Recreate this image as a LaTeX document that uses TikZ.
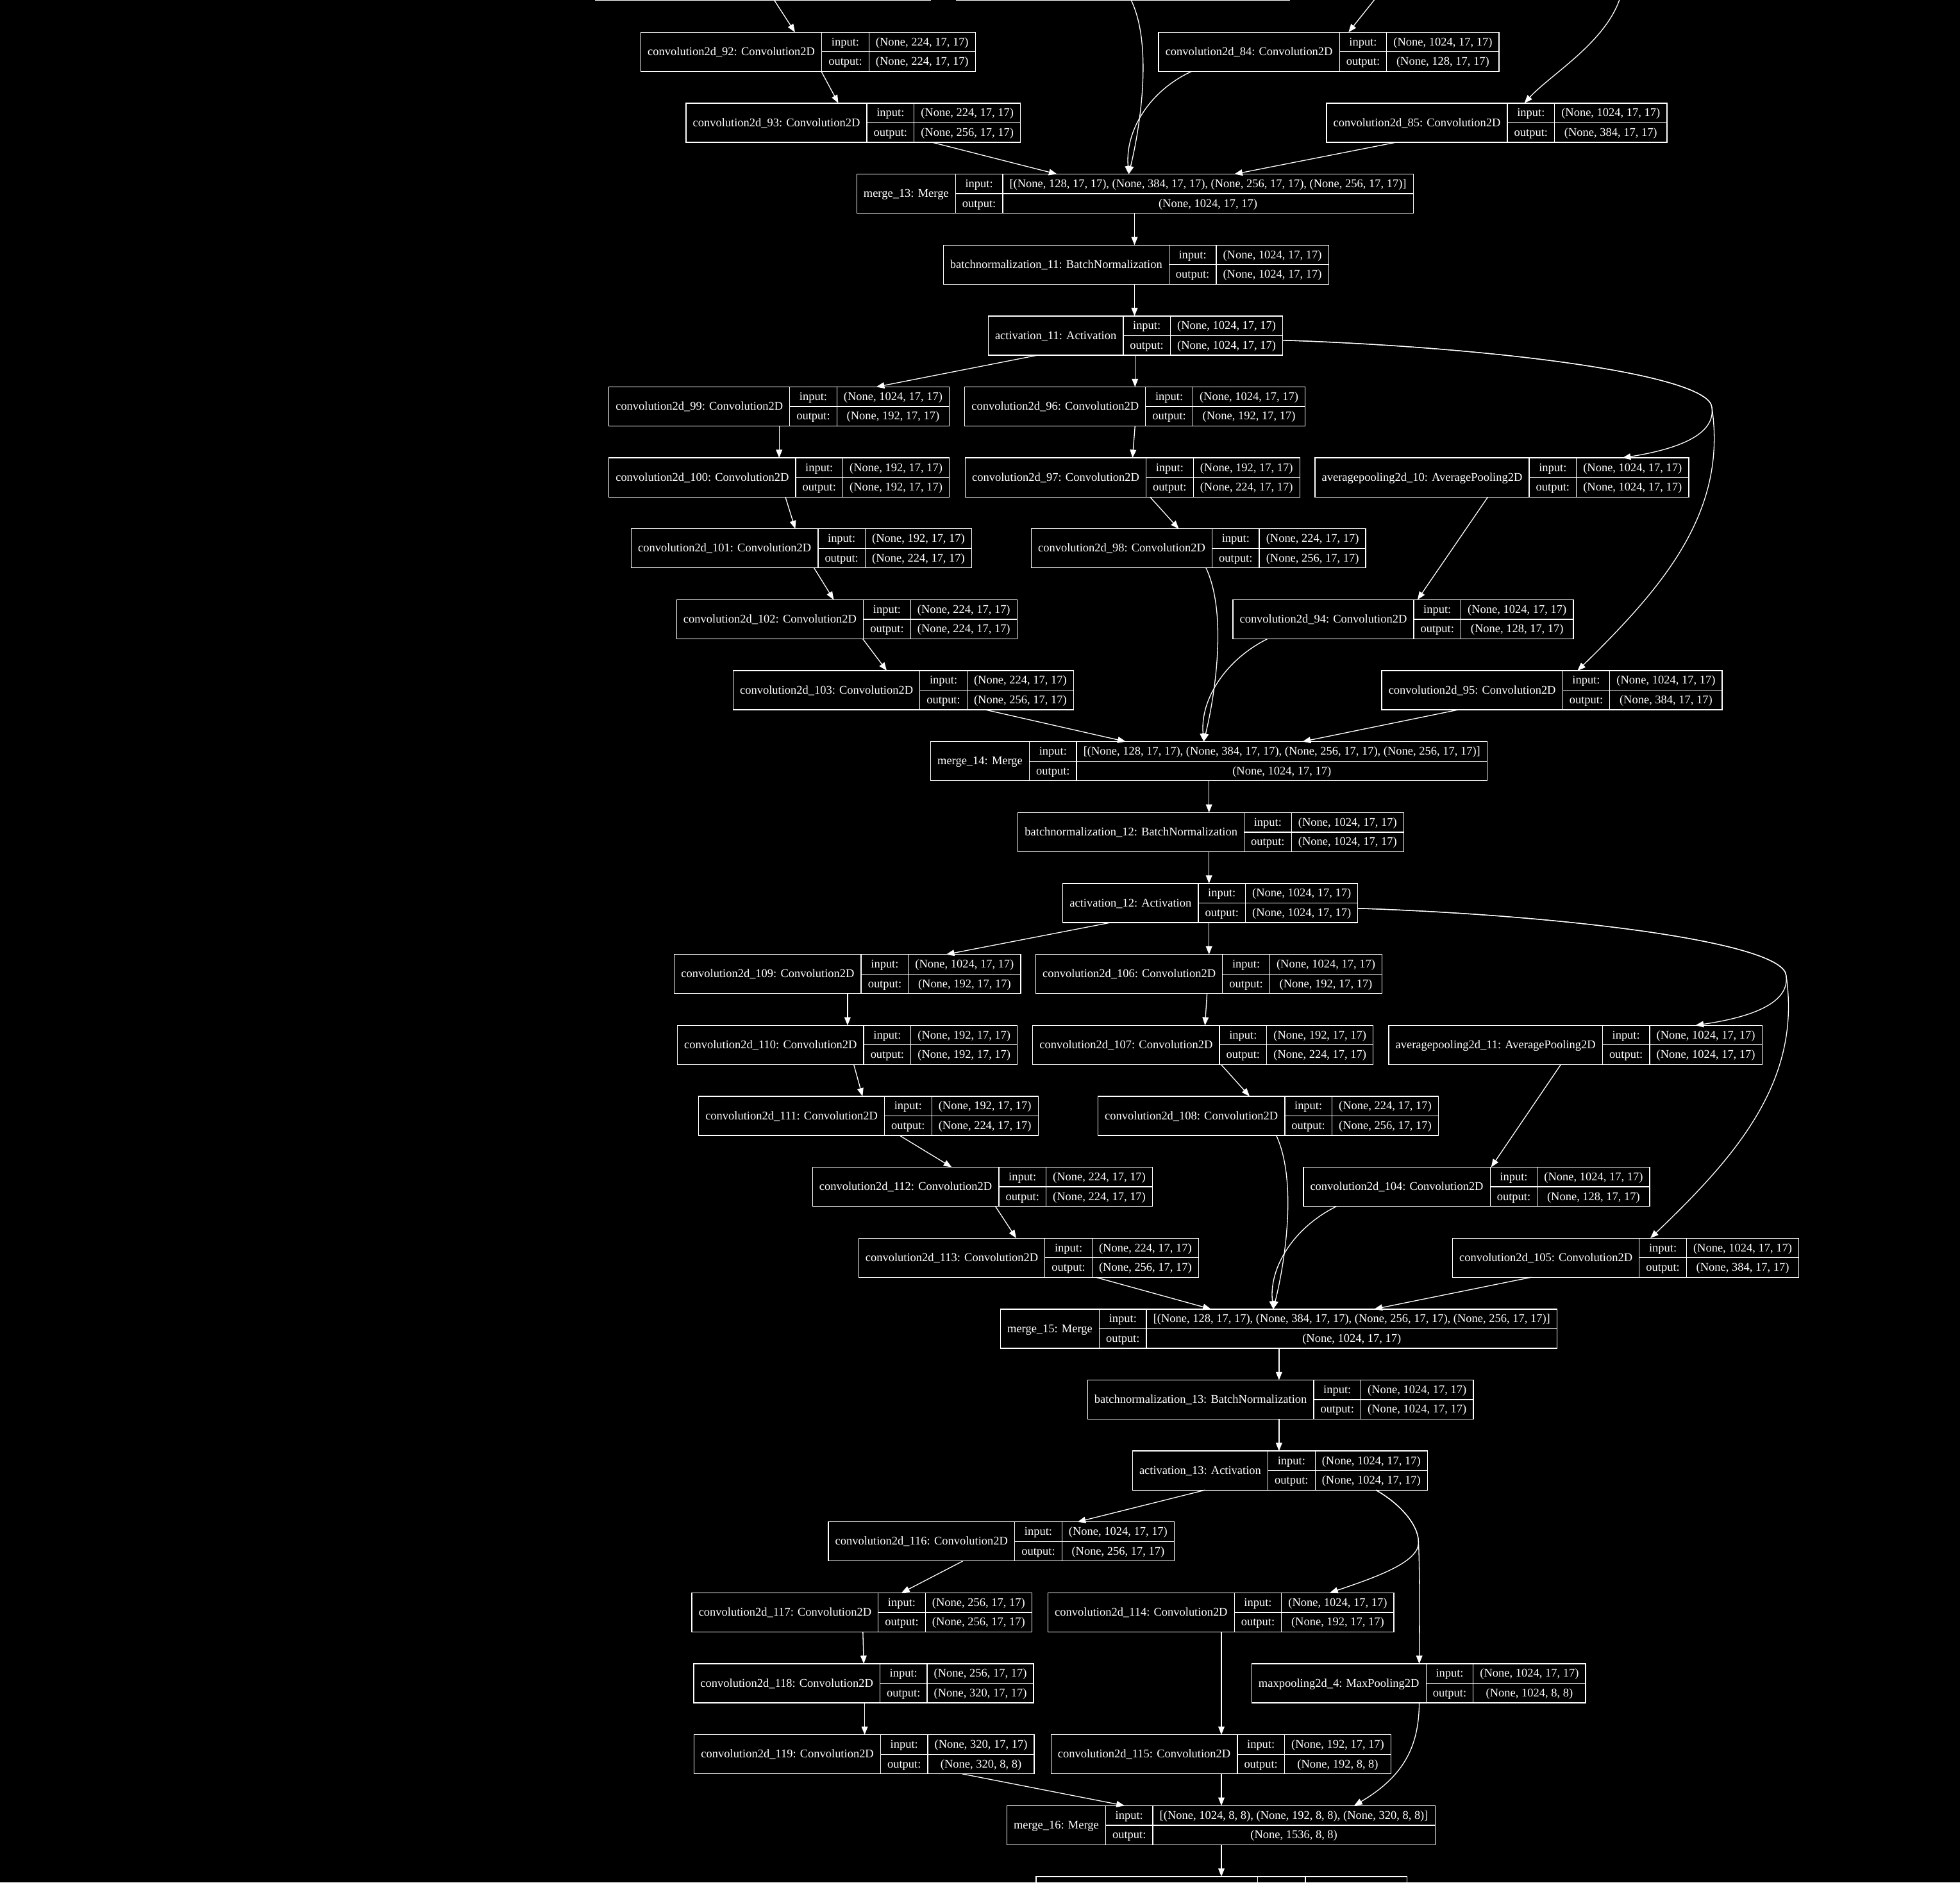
\documentclass[tikz,border=0pt]{standalone}
\usepackage{fontspec}
\setmainfont{Liberation Serif}
\usetikzlibrary{arrows.meta}
\newcommand\kfont{\fontsize{9.48}{11.4}\selectfont}
\newcommand\shp[1]{(None, #1, 17, 17)}
\newcommand\mrg{[(None, 128, 17, 17), (None, 384, 17, 17), (None, 256, 17, 17), (None, 256, 17, 17)]}
\newlength\kwa \newlength\kwb \newlength\kwc \newlength\kwt
\tikzset{
  kbox/.style={draw=white, line width=0.67pt, inner sep=0pt, outer sep=0pt, minimum height=31.3pt, anchor=north west},
  kline/.style={draw=white, line width=0.67pt},
  ktext/.style={text=white, font=\kfont, inner sep=0pt, anchor=base},
  arr/.style={draw=white, line width=0.67pt, -{Triangle[length=6.5pt,width=5pt]}},
}
\newcommand\kdraw[3]{%
  \expandafter\xdef\csname L@#1\endcsname{#2}%
  \node[kbox, minimum width=\kwa+\kwb+\kwc] (#1) at (#2,#3) {};
  \draw[kline] ([xshift=\kwa]#1.north west) -- ([xshift=\kwa]#1.south west)
    ([xshift=\kwa+\kwb]#1.north west) -- ([xshift=\kwa+\kwb]#1.south west)
    ([xshift=\kwa]#1.west) -- (#1.east);
}
\newcommand\keras[6]{%
  \pgfinterruptpicture
  \settowidth\kwa{\kfont #4}\addtolength\kwa{10.9pt}\global\kwa=\kwa
  \settowidth\kwb{\kfont output:}\addtolength\kwb{10.9pt}\global\kwb=\kwb
  \settowidth\kwc{\kfont #5}\settowidth\kwt{\kfont #6}%
  \ifdim\kwt>\kwc \kwc=\kwt\fi
  \addtolength\kwc{10.9pt}\global\kwc=\kwc
  \endpgfinterruptpicture
  \kdraw{#1}{#2}{#3}
  \node[ktext] (#1-name) at ([xshift=0.5*\kwa, yshift=-18.55pt]#1.north west) {#4};
  \node[ktext] (#1-il) at ([xshift=\kwa+0.5*\kwb, yshift=-10.73pt]#1.north west) {input:};
  \node[ktext] (#1-ol) at ([xshift=\kwa+0.5*\kwb, yshift=-26.38pt]#1.north west) {output:};
  \node[ktext] (#1-in) at ([xshift=\kwa+\kwb+0.5*\kwc, yshift=-10.73pt]#1.north west) {#5};
  \node[ktext] (#1-out) at ([xshift=\kwa+\kwb+0.5*\kwc, yshift=-26.38pt]#1.north west) {#6};
}
\newcommand\kerasb[6]{\kwa=#4pt\kwb=#5pt\kwc=#6pt\kdraw{#1}{#2}{#3}}
\newcommand\edg[4]{%
  \edef\kxa{\csname L@#1\endcsname}\edef\kxb{\csname L@#3\endcsname}%
  \draw[arr] ([xshift={(#2-\kxa)*1pt}]#1.south west) -- ([xshift={(#4-\kxb)*1pt}]#3.north west);}
\newcommand\edgc[6]{%
  \edef\kxa{\csname L@#1\endcsname}\edef\kxb{\csname L@#5\endcsname}%
  \draw[arr] ([xshift={(#2-\kxa)*1pt}]#1.south west) .. controls #3 and #4 .. ([xshift={(#6-\kxb)*1pt}]#5.north west);}
\begin{document}
\begin{tikzpicture}[x=1pt,y=-1pt]
\useasboundingbox (0,0) rectangle (1568,1506);
\fill[black] (0,0) rectangle (1568,1506);
\clip (0,0) rectangle (1568,1506);
% partial records at the edges
\kerasb{top1}{476.4}{-30.95}{143.6}{38.9}{85.4}
\kerasb{top2}{765}{-30.95}{142.4}{40.1}{84.1}
% records
\keras{conv92}{512.7}{25.8}{convolution2d\_92: Convolution2D}{\shp{224}}{\shp{224}}
\keras{conv84}{926.9}{25.8}{convolution2d\_84: Convolution2D}{\shp{1024}}{\shp{128}}
\keras{conv93}{548.8}{82.55}{convolution2d\_93: Convolution2D}{\shp{224}}{\shp{256}}
\keras{conv85}{1061.2}{82.55}{convolution2d\_85: Convolution2D}{\shp{1024}}{\shp{384}}
\keras{merge13}{685.4}{139.3}{merge\_13: Merge}{\mrg}{\shp{1024}}
\keras{bn11}{754.6}{196.05}{batchnormalization\_11: BatchNormalization}{\shp{1024}}{\shp{1024}}
\keras{act11}{790.6}{252.8}{activation\_11: Activation}{\shp{1024}}{\shp{1024}}
\keras{conv99}{487.1}{309.55}{convolution2d\_99: Convolution2D}{\shp{1024}}{\shp{192}}
\keras{conv96}{771.8}{309.55}{convolution2d\_96: Convolution2D}{\shp{1024}}{\shp{192}}
\keras{conv100}{487.1}{366.3}{convolution2d\_100: Convolution2D}{\shp{192}}{\shp{192}}
\keras{conv97}{772.2}{366.3}{convolution2d\_97: Convolution2D}{\shp{192}}{\shp{224}}
\keras{avg10}{1052}{366.3}{averagepooling2d\_10: AveragePooling2D}{\shp{1024}}{\shp{1024}}
\keras{conv101}{505}{423.05}{convolution2d\_101: Convolution2D}{\shp{192}}{\shp{224}}
\keras{conv98}{825}{423.05}{convolution2d\_98: Convolution2D}{\shp{224}}{\shp{256}}
\keras{conv102}{541.3}{479.8}{convolution2d\_102: Convolution2D}{\shp{224}}{\shp{224}}
\keras{conv94}{986.3}{479.8}{convolution2d\_94: Convolution2D}{\shp{1024}}{\shp{128}}
\keras{conv103}{586.5}{536.55}{convolution2d\_103: Convolution2D}{\shp{224}}{\shp{256}}
\keras{conv95}{1105.4}{536.55}{convolution2d\_95: Convolution2D}{\shp{1024}}{\shp{384}}
\keras{merge14}{744.5}{593.3}{merge\_14: Merge}{\mrg}{\shp{1024}}
\keras{bn12}{814.4}{650.05}{batchnormalization\_12: BatchNormalization}{\shp{1024}}{\shp{1024}}
\keras{act12}{850.3}{706.8}{activation\_12: Activation}{\shp{1024}}{\shp{1024}}
\keras{conv109}{539.5}{763.55}{convolution2d\_109: Convolution2D}{\shp{1024}}{\shp{192}}
\keras{conv106}{828.6}{763.55}{convolution2d\_106: Convolution2D}{\shp{1024}}{\shp{192}}
\keras{conv110}{541.9}{820.3}{convolution2d\_110: Convolution2D}{\shp{192}}{\shp{192}}
\keras{conv107}{826.2}{820.3}{convolution2d\_107: Convolution2D}{\shp{192}}{\shp{224}}
\keras{avg11}{1111}{820.3}{averagepooling2d\_11: AveragePooling2D}{\shp{1024}}{\shp{1024}}
\keras{conv111}{558.9}{877.05}{convolution2d\_111: Convolution2D}{\shp{192}}{\shp{224}}
\keras{conv108}{878.4}{877.05}{convolution2d\_108: Convolution2D}{\shp{224}}{\shp{256}}
\keras{conv112}{650}{933.8}{convolution2d\_112: Convolution2D}{\shp{224}}{\shp{224}}
\keras{conv104}{1042.7}{933.8}{convolution2d\_104: Convolution2D}{\shp{1024}}{\shp{128}}
\keras{conv113}{686.9}{990.55}{convolution2d\_113: Convolution2D}{\shp{224}}{\shp{256}}
\keras{conv105}{1162}{990.55}{convolution2d\_105: Convolution2D}{\shp{1024}}{\shp{384}}
\keras{merge15}{800.4}{1047.3}{merge\_15: Merge}{\mrg}{\shp{1024}}
\keras{bn13}{870}{1104.05}{batchnormalization\_13: BatchNormalization}{\shp{1024}}{\shp{1024}}
\keras{act13}{906}{1160.8}{activation\_13: Activation}{\shp{1024}}{\shp{1024}}
\keras{conv116}{662.7}{1217.55}{convolution2d\_116: Convolution2D}{\shp{1024}}{\shp{256}}
\keras{conv117}{553.5}{1274.3}{convolution2d\_117: Convolution2D}{\shp{256}}{\shp{256}}
\keras{conv114}{838.4}{1274.3}{convolution2d\_114: Convolution2D}{\shp{1024}}{\shp{192}}
\keras{conv118}{554.9}{1331.05}{convolution2d\_118: Convolution2D}{\shp{256}}{\shp{320}}
\keras{maxpool4}{1001.4}{1331.05}{maxpooling2d\_4: MaxPooling2D}{\shp{1024}}{(None, 1024, 8, 8)}
\keras{conv119}{555.4}{1387.8}{convolution2d\_119: Convolution2D}{\shp{320}}{(None, 320, 8, 8)}
\keras{conv115}{840.8}{1387.8}{convolution2d\_115: Convolution2D}{\shp{192}}{(None, 192, 8, 8)}
\keras{merge16}{805.5}{1444.55}{merge\_16: Merge}{[(None, 1024, 8, 8), (None, 192, 8, 8), (None, 320, 8, 8)]}{(None, 1536, 8, 8)}
\kerasb{bn14}{828.8}{1501.3}{177.3}{38.2}{81.3}
% connectors
\coordinate (in84) at (1099.4,0);
\coordinate (in85) at (1295.5,0);
\edg{top1}{619.5}{conv92}{636}
\edgc{top2}{905}{(922.2,36.3)}{(912.2,101.3)}{merge13}{903}
\draw[arr] (in84) -- ([xshift=151.9pt]conv84.north west);
\draw[arr] (in85) .. controls (1283,35) and (1240,60) .. ([xshift=158.3pt]conv85.north west);
\edg{conv92}{657}{conv93}{670.7}
\edg{conv93}{745.5}{merge13}{845.6}
\edgc{conv84}{953.3}{(919,73)}{(900,105)}{merge13}{903}
\edg{conv85}{1117}{merge13}{987.5}
\edg{merge13}{907.6}{bn11}{907.6}
\edg{bn11}{907.6}{act11}{907.6}
\edg{act11}{830.5}{conv99}{701}
\edg{act11}{908}{conv96}{908}
\draw[arr] ([yshift=-3.75pt]act11.east) .. controls (1200,278) and (1368,300) .. (1369.5,326)
  .. controls (1372,345) and (1350,358) .. ([xshift=246pt]avg10.north west);
\draw[arr] ([yshift=-3.75pt]act11.east) .. controls (1200,278) and (1368,300) .. (1369.5,326)
  .. controls (1382,410) and (1330,470) .. ([xshift=156.6pt]conv95.north west);
\edg{conv99}{623.3}{conv100}{623.3}
\edg{conv100}{628.3}{conv101}{636.2}
\edg{conv101}{651.2}{conv102}{667}
\edg{conv102}{690.2}{conv103}{709.4}
\edg{conv103}{788.4}{merge14}{900.6}
\edg{conv96}{908}{conv97}{906}
\edg{conv97}{920}{conv98}{943}
\edgc{conv98}{964.8}{(982,491)}{(972,556)}{merge14}{963}
\edg{avg10}{1190.3}{conv94}{1134}
\edgc{conv94}{1014}{(980,528)}{(960,560)}{merge14}{963}
\edg{conv95}{1166.5}{merge14}{1042}
\edg{merge14}{967.2}{bn12}{967.2}
\edg{bn12}{967.2}{act12}{967.2}
\edg{act12}{888.4}{conv109}{757}
\edg{act12}{967.2}{conv106}{967.2}
\draw[arr] ([yshift=-4.25pt]act12.east) .. controls (1259.4,732.5) and (1427.4,754.5) .. (1428.9,780.5)
  .. controls (1431.4,799.5) and (1409.4,812.5) .. ([xshift=245.4pt]avg11.north west);
\draw[arr] ([yshift=-4.25pt]act12.east) .. controls (1259.4,732.5) and (1427.4,754.5) .. (1428.9,780.5)
  .. controls (1441.4,864.5) and (1389.4,924.5) .. ([xshift=158.3pt]conv105.north west);
\edg{conv109}{678}{conv110}{678}
\edg{conv110}{683}{conv111}{690}
\edg{conv111}{719.6}{conv112}{761.4}
\edg{conv112}{796.3}{conv113}{813}
\edg{conv113}{876.6}{merge15}{968.8}
\edg{conv106}{965.6}{conv107}{964}
\edg{conv107}{976.8}{conv108}{999.7}
\edgc{conv108}{1021}{(1038,945)}{(1028,1010)}{merge15}{1018.6}
\edg{avg11}{1248.7}{conv104}{1192.9}
\edgc{conv104}{1069.2}{(1035,982)}{(1015,1014)}{merge15}{1018.6}
\edg{conv105}{1225}{merge15}{1099.4}
\edg{merge15}{1023.2}{bn13}{1023.2}
\edg{bn13}{1023.2}{act13}{1023.2}
\edg{act13}{964}{conv116}{862}
\draw[arr] ([xshift=194.7pt]act13.south west) .. controls (1120,1203) and (1135,1220) .. (1134.8,1234.1)
  .. controls (1135,1250) and (1100,1262) .. ([xshift=225.4pt]conv114.north west);
\draw[arr] ([xshift=194.7pt]act13.south west) .. controls (1120,1203) and (1135,1220) .. (1134.8,1234.1)
  .. controls (1136,1260) and (1135.5,1300) .. ([xshift=134pt]maxpool4.north west);
\edg{conv116}{770.3}{conv117}{721.2}
\edg{conv117}{690.3}{conv118}{691}
\edg{conv118}{691.7}{conv119}{691.7}
\edg{conv119}{769.5}{merge16}{899.6}
\edg{conv114}{977.1}{conv115}{977.1}
\edg{conv115}{977.1}{merge16}{977.1}
\edgc{maxpool4}{1135.4}{(1135,1395)}{(1125,1420)}{merge16}{1083.3}
\edg{merge16}{977.1}{bn14}{977.1}
\end{tikzpicture}
\end{document}
